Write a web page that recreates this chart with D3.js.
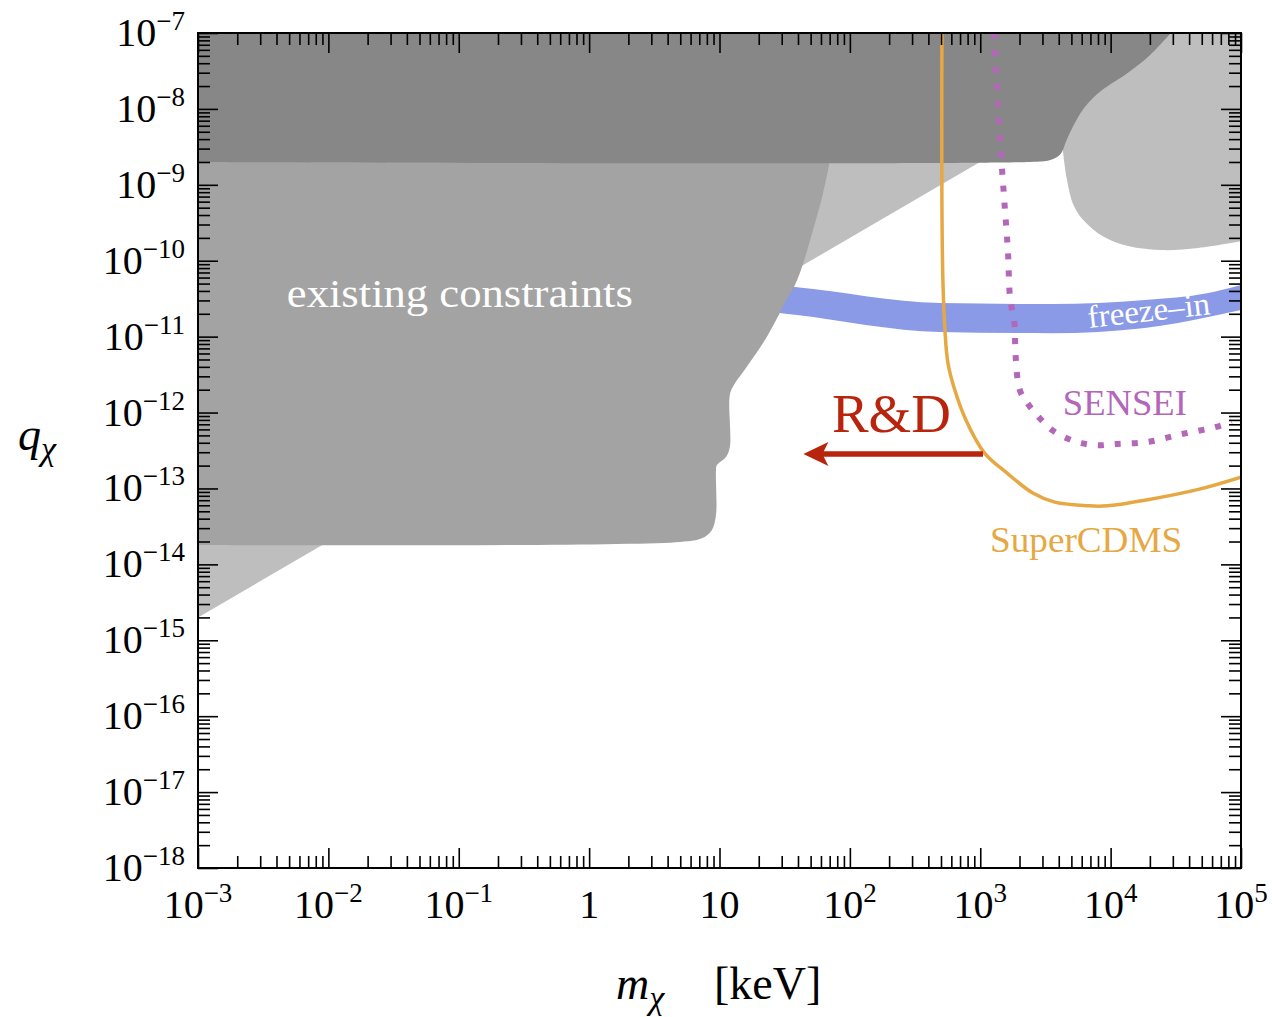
<!DOCTYPE html>
<html lang="en">
<head>
<meta charset="UTF-8">
<title>millicharged dark matter: q_chi vs m_chi</title>
<script src="https://d3js.org/d3.v7.min.js"></script>
<style>
  body { margin: 0; background: #fff; overflow: hidden; }
  svg { display: block; font-family: "Liberation Serif", "DejaVu Serif", serif; }
  .ax .domain { display: none; }
  .ax .tick line { stroke: #000; stroke-width: 1.6; }
</style>
</head>
<body>
<svg id="chart" width="1272" height="1017"></svg>
<script>
// ---- values: mass in keV, charge in units of e ----

// tick labels ("^" splits base and exponent)
const massTicks = [1e-3, 1e-2, 1e-1, 1, 10, 1e2, 1e3, 1e4, 1e5];
const massTickLabels = ["10^−3", "10^−2", "10^−1", "1", "10", "10^2", "10^3", "10^4", "10^5"];
const chargeTicks = [1e-7, 1e-8, 1e-9, 1e-10, 1e-11, 1e-12, 1e-13, 1e-14, 1e-15, 1e-16, 1e-17, 1e-18];
const chargeTickLabels = ["10^−7", "10^−8", "10^−9", "10^−10", "10^−11", "10^−12", "10^−13",
                          "10^−14", "10^−15", "10^−16", "10^−17", "10^−18"];

// dark band at the top, its lower / right edge
const darkMass   = [1e-3, 2.4e3, 3.4e3, 4.1e3, 4.6e3, 5.2e3, 6.1e3, 7.2e3, 8.7e3, 1.36e4, 2.0e4, 2.9e4];
const darkCharge = [2.0e-9, 2.0e-9, 2.1e-9, 2.5e-9, 3.9e-9, 6.1e-9, 9.7e-9, 1.35e-8, 1.8e-8, 3.0e-8, 5.1e-8, 1e-7];

// medium gray block, right / bottom edge
const mediumMass   = [75, 70, 61, 52, 43.6, 37.9, 32.3, 29, 22.3, 16.2, 12.9, 12.0, 12.0, 11.2, 9.55, 9.4, 9.4, 8.7, 7.3, 5.0, 1e-3];
const mediumCharge = [3.9e-9, 2.0e-9, 6.7e-10, 2.5e-10, 9.0e-11, 4.8e-11, 3.0e-11, 2.05e-11, 9.0e-12, 4.0e-12,
                      2.3e-12, 1.7e-12, 3.5e-13, 2.6e-13, 2.03e-13, 1.75e-13, 4.5e-14, 2.8e-14, 2.2e-14, 1.97e-14, 1.8e-14];

// light gray wedge under the diagonal
const diagMass   = [1e-3, 1.05e3];
const diagCharge = [2.0e-15, 2.1e-9];

// light gray blob upper right, lower edge
const blobMass   = [4.3e3, 4.6e3, 5.2e3, 6.3e3, 8.7e3, 1.36e4, 2.5e4, 4.7e4, 1e5];
const blobCharge = [2.9e-9, 1.23e-9, 5.4e-10, 3.3e-10, 2.1e-10, 1.56e-10, 1.38e-10, 1.47e-10, 1.8e-10];

// freeze-in band
const freezeInMass  = [14.3, 29, 38, 490, 3.54e3, 1.83e4, 5.6e4, 1e5];
const freezeInUpper = [5.2e-11, 4.7e-11, 4.5e-11, 2.77e-11, 2.69e-11, 3.03e-11, 3.75e-11, 4.8e-11];
const freezeInLower = [2.38e-11, 2.05e-11, 1.94e-11, 1.15e-11, 1.11e-11, 1.30e-11, 1.81e-11, 2.24e-11];

// SuperCDMS projection
const cdmsMass   = [508, 508, 517, 536, 565, 638, 776, 1.08e3, 1.6e3, 2.53e3, 3.73e3, 6.8e3, 9.4e3, 1.83e4, 4.8e4, 1e5];
const cdmsCharge = [1e-7, 6.3e-10, 5.6e-11, 1.22e-11, 4.5e-12, 1.98e-12, 8.0e-13, 2.92e-13, 1.6e-13, 8.7e-14,
                    6.6e-14, 5.9e-14, 5.9e-14, 7.0e-14, 9.8e-14, 1.41e-13];

// SENSEI projection
const senseiMass   = [1.27e3, 1.34e3, 1.44e3, 1.53e3, 1.63e3, 1.70e3, 1.82e3, 1.87e3, 2.01e3, 2.30e3, 2.81e3,
                      3.54e3, 4.6e3, 5.96e3, 8.0e3, 1.08e4, 1.93e4, 3.5e4, 6.3e4, 8.5e4];
const senseiCharge = [1e-7, 2.26e-8, 2.7e-9, 6.1e-10, 1.34e-10, 3.0e-11, 1.66e-11, 5.4e-12, 1.98e-12, 1.33e-12, 8.7e-13,
                      5.9e-13, 4.6e-13, 3.96e-13, 3.7e-13, 3.85e-13, 4.1e-13, 5.2e-13, 6.4e-13, 7.5e-13];

// R&D arrow: from, to
const rdMass   = [1.05e3, 44];
const rdCharge = [2.84e-13, 2.84e-13];

// ---- layout ----
const W = 1272, H = 1017;
const m = { left: 198, right: 31, top: 33, bottom: 149 };
const pw = W - m.left - m.right, ph = H - m.top - m.bottom;

const svg = d3.select("#chart");
const x = d3.scaleLog().domain([1e-3, 1e5]).range([m.left, m.left + pw]);
const y = d3.scaleLog().domain([1e-18, 1e-7]).range([m.top + ph, m.top]);

const zip = (a, b) => a.map((v, i) => [x(v), y(b[i])]);
const smooth = d3.line().curve(d3.curveCatmullRom.alpha(0.5));

svg.append("defs").append("clipPath").attr("id", "plotclip")
  .append("rect").attr("x", m.left).attr("y", m.top).attr("width", pw).attr("height", ph);

const plot = svg.append("g").attr("clip-path", "url(#plotclip)");
const L = p => `L${p[0]},${p[1]}`;

// light gray diagonal wedge
const dg = zip(diagMass, diagCharge);
plot.append("path")
  .attr("d", `M${dg[0]}` + L(dg[1]) + L([dg[1][0], y(2e-7)]) + L([x(5e-4), y(2e-7)]) + L([x(5e-4), dg[0][1]]) + "Z")
  .attr("fill", "#bebebe");

// light gray blob
const bl = zip(blobMass, blobCharge);
plot.append("path")
  .attr("d", smooth(bl) + L([x(2e5), bl[bl.length - 1][1]]) + L([x(2e5), y(2e-7)]) + L([bl[0][0], y(2e-7)]) + "Z")
  .attr("fill", "#bebebe");

// freeze-in band
plot.append("path")
  .datum(freezeInMass.map((v, i) => [v, freezeInUpper[i], freezeInLower[i]]))
  .attr("d", d3.area().curve(d3.curveMonotoneX)
    .x(d => x(d[0])).y0(d => y(d[2])).y1(d => y(d[1])))
  .attr("fill", "#8a9ae6");

// medium gray block
const md = zip(mediumMass, mediumCharge);
plot.append("path")
  .attr("d", smooth(md) + L([x(5e-4), md[md.length - 1][1]]) + L([x(5e-4), y(2e-7)]) + L([md[0][0], y(2e-7)]) + "Z")
  .attr("fill", "#a3a3a3");

// dark band
const dk = zip(darkMass, darkCharge);
plot.append("path")
  .attr("d", smooth(dk) + L([dk[dk.length - 1][0], y(2e-7)]) + L([x(5e-4), y(2e-7)]) + L([x(5e-4), dk[0][1]]) + "Z")
  .attr("fill", "#878787");

// SuperCDMS
plot.append("path")
  .attr("d", smooth(zip(cdmsMass, cdmsCharge)))
  .attr("fill", "none").attr("stroke", "#e6a843").attr("stroke-width", 3.5);

// SENSEI
plot.append("path")
  .attr("d", smooth(zip(senseiMass, senseiCharge)))
  .attr("fill", "none").attr("stroke", "#b466b9").attr("stroke-width", 6)
  .attr("stroke-dasharray", "6 11");

// R&D arrow
const ar = zip(rdMass, rdCharge);
plot.append("line")
  .attr("x1", ar[0][0]).attr("y1", ar[0][1]).attr("x2", ar[1][0] + 18).attr("y2", ar[1][1])
  .attr("stroke", "#b8240c").attr("stroke-width", 5.5);
plot.append("path")
  .attr("d", `M${ar[1][0]},${ar[1][1]} l25,-12 l-6,12 l6,12 Z`)
  .attr("fill", "#b8240c");

// ---- annotations ----
const note = (txt, mx, qy, size, color, len, rot) => {
  const t = plot.append("text")
    .attr("x", x(mx)).attr("y", y(qy))
    .attr("font-size", size).attr("fill", color)
    .attr("textLength", len).attr("lengthAdjust", "spacingAndGlyphs")
    .text(txt);
  if (rot) t.attr("transform", `rotate(${rot},${x(mx)},${y(qy)})`);
};
note("existing constraints", 4.8e-3, 2.45e-11, 40, "#ffffff", 346);
note("R&D", 72.8, 5.5e-13, 55, "#b8240c", 119);
note("SENSEI", 4.3e3, 9.3e-13, 36, "#b466b9", 124);
note("SuperCDMS", 1.19e3, 1.45e-14, 36, "#e6a843", 192);
note("freeze–in", 6.8e3, 1.3e-11, 32, "#ffffff", 123, -6.5);

// ---- axes (ticks inward on all four sides) ----
const minorOf = (lo, hi) => {
  const out = [];
  for (let e = lo; e < hi; e++) for (let k = 2; k <= 9; k++) out.push(k * Math.pow(10, e));
  return out;
};
const massMinor = minorOf(-3, 5);
const chargeMinor = minorOf(-18, -7);

const axes = [
  [d3.axisBottom(x), `translate(0,${m.top + ph})`, massTicks, massMinor],
  [d3.axisTop(x), `translate(0,${m.top})`, massTicks, massMinor],
  [d3.axisLeft(y), `translate(${m.left},0)`, chargeTicks, chargeMinor],
  [d3.axisRight(y), `translate(${m.left + pw},0)`, chargeTicks, chargeMinor]
];
axes.forEach(([ax, tr, major, minor]) => {
  svg.append("g").attr("class", "ax").attr("transform", tr)
    .call(ax.tickValues(minor).tickSize(-12).tickFormat(""));
  svg.append("g").attr("class", "ax").attr("transform", tr)
    .call(ax.tickValues(major).tickSize(-20).tickFormat(""));
});

svg.append("rect")
  .attr("x", m.left).attr("y", m.top).attr("width", pw).attr("height", ph)
  .attr("fill", "none").attr("stroke", "#000").attr("stroke-width", 2);

// tick labels with superscripts
const powerLabel = (label, px, py, anchor) => {
  const [base, exp] = label.split("^");
  const t = svg.append("text").attr("x", px).attr("y", py)
    .attr("text-anchor", anchor).attr("font-size", 40).attr("fill", "#000");
  t.append("tspan").text(base);
  if (exp) t.append("tspan").attr("font-size", 27).attr("dy", -16).text(exp);
};
massTicks.forEach((v, i) => powerLabel(massTickLabels[i], x(v), m.top + ph + 50, "middle"));
chargeTicks.forEach((v, i) => powerLabel(chargeTickLabels[i], m.left - 13, y(v) + 13, "end"));

// axis titles
const xt = svg.append("text").attr("x", 616).attr("y", 999).attr("font-size", 46).attr("fill", "#000");
xt.append("tspan").attr("font-style", "italic").text("m");
xt.append("tspan").attr("font-style", "italic").attr("font-size", 34).attr("dy", 10).text("χ");
xt.append("tspan").attr("x", 714).attr("dy", -10).text("[keV]");

const yt = svg.append("text").attr("x", 18).attr("y", 450).attr("font-size", 46).attr("fill", "#000");
yt.append("tspan").attr("font-style", "italic").text("q");
yt.append("tspan").attr("font-style", "italic").attr("font-size", 34).attr("dy", 10).text("χ");
</script>
</body>
</html>
